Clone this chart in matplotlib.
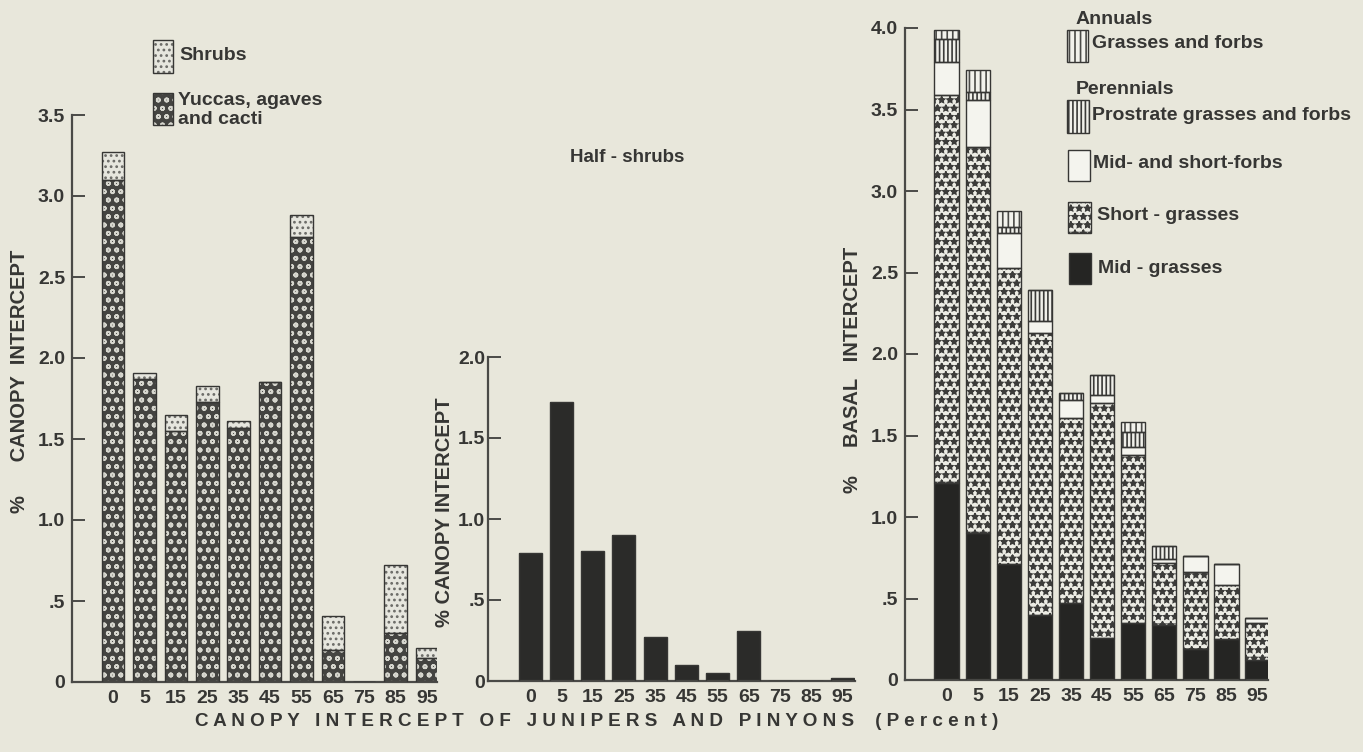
import matplotlib
matplotlib.use('Agg')
import matplotlib.pyplot as plt
from matplotlib.patches import Rectangle
import numpy as np

# --- data ---
classes = ['0', '5', '15', '25', '35', '45', '55', '65', '75', '85', '95']

yuccas = [3.10, 1.87, 1.55, 1.73, 1.57, 1.85, 2.75, 0.20, 0.0, 0.30, 0.15]
shrubs = [0.17, 0.04, 0.10, 0.10, 0.04, 0.0, 0.13, 0.21, 0.0, 0.42, 0.06]

half_shrubs = [0.79, 1.72, 0.80, 0.90, 0.27, 0.10, 0.05, 0.31, 0.0, 0.0, 0.02]

mid_grasses = [1.21, 0.90, 0.71, 0.40, 0.47, 0.26, 0.35, 0.34, 0.19, 0.25, 0.12]
short_grasses = [2.38, 2.37, 1.82, 1.73, 1.14, 1.44, 1.03, 0.38, 0.47, 0.33, 0.23]
mid_short_forbs = [0.20, 0.29, 0.21, 0.07, 0.11, 0.05, 0.05, 0.02, 0.10, 0.13, 0.03]
prostrate = [0.14, 0.05, 0.04, 0.19, 0.04, 0.12, 0.09, 0.08, 0.0, 0.0, 0.0]
annuals = [0.06, 0.13, 0.10, 0.0, 0.0, 0.0, 0.06, 0.0, 0.0, 0.0, 0.0]

BG = '#e8e7db'
INK = '#363634'
FONT = ['Liberation Sans', 'DejaVu Sans']

plt.rcParams['font.family'] = FONT
plt.rcParams['font.weight'] = 'bold'
plt.rcParams['hatch.linewidth'] = 1.2

# style per layer: (face, hatch, hatch colour)
STYLES = {
    'yucca': ('#444441', 'oo', '#d6d6ce'),
    'shrub': ('#e6e6de', '...', '#6a6a66'),
    'half': ('#2b2b29', None, '#2b2b29'),
    'mid': ('#252523', None, '#252523'),
    'short': ('#ecece4', '**', '#3c3c3a'),
    'forbs': ('#f4f4ee', None, '#f4f4ee'),
    'prostrate': ('#f0f0ea', '||||', '#3a3a38'),
    'annual': ('#f2f2ec', '|||', '#4a4a47'),
}

fig = plt.figure(figsize=(13.63, 7.52), dpi=100, facecolor=BG)
W, H = 1363.0, 752.0


def px_axes(x0, x1, ytop, ybot):
    return fig.add_axes([x0 / W, (H - ybot) / H, (x1 - x0) / W, (ybot - ytop) / H])


def styled_bar(ax, x, h, bottom, key, width):
    face, hatch, hcol = STYLES[key]
    ax.bar(x, h, width, bottom=bottom, color=face, edgecolor=hcol,
           linewidth=0, hatch=hatch, zorder=2)
    ax.bar(x, h, width, bottom=bottom, fill=False, edgecolor=INK,
           linewidth=1.0, zorder=3)


def style_axes(ax, ymax, yticks, ylabels, xlim, ypad=5):
    ax.set_facecolor('none')
    for s in ['top', 'right']:
        ax.spines[s].set_visible(False)
    for s in ['left', 'bottom']:
        ax.spines[s].set_color('#4a4a47')
        ax.spines[s].set_linewidth(1.6)
    ax.set_ylim(0, ymax)
    ax.set_xlim(*xlim)
    ax.set_yticks(yticks)
    ax.set_yticklabels(ylabels)
    ax.set_xticks(np.arange(len(classes)))
    ax.set_xticklabels(classes)
    ax.tick_params(axis='y', direction='in', length=9, width=1.4,
                   color='#4a4a47', pad=ypad, labelsize=14, labelcolor=INK)
    ax.tick_params(axis='x', length=0, pad=6, labelsize=14, labelcolor=INK)


x = np.arange(len(classes))

# --- panel 1: shrubs / yuccas ---
ax1 = px_axes(72, 437, 115, 682)
styled_bar(ax1, x, yuccas, 0, 'yucca', 0.72)
styled_bar(ax1, x, shrubs, yuccas, 'shrub', 0.72)
style_axes(ax1, 3.5, [0, 0.5, 1.0, 1.5, 2.0, 2.5, 3.0, 3.5],
           ['0', '.5', '1.0', '1.5', '2.0', '2.5', '3.0', '3.5'], (-1.31, 10.32))

# --- panel 2: half-shrubs ---
ax2 = px_axes(488, 855, 357, 681)
styled_bar(ax2, x, half_shrubs, 0, 'half', 0.74)
style_axes(ax2, 2.0, [0, 0.5, 1.0, 1.5, 2.0], ['0', '.5', '1.0', '1.5', '2.0'],
           (-1.35, 10.4), ypad=2)

# --- panel 3: grasses and forbs, stacked ---
ax3 = px_axes(905, 1268, 28, 680)
layers = [('mid', mid_grasses), ('short', short_grasses), ('forbs', mid_short_forbs),
          ('prostrate', prostrate), ('annual', annuals)]
bottom = np.zeros(len(classes))
for key, vals in layers:
    vals = np.array(vals)
    styled_bar(ax3, x, vals, bottom, key, 0.8)
    bottom = bottom + vals
style_axes(ax3, 4.0, [0, 0.5, 1.0, 1.5, 2.0, 2.5, 3.0, 3.5, 4.0],
           ['0', '.5', '1.0', '1.5', '2.0', '2.5', '3.0', '3.5', '4.0'], (-1.35, 10.35))

# --- axis titles ---
fig.text(20 / W, 1 - 381 / H, '%      CANOPY  INTERCEPT', rotation=90, ha='center',
         va='center', fontsize=14.5, color=INK)
fig.text(445 / W, 1 - 512 / H, '% CANOPY INTERCEPT', rotation=90, ha='center',
         va='center', fontsize=14.5, color=INK)
fig.text(852 / W, 1 - 370 / H, '%     BASAL   INTERCEPT', rotation=90, ha='center',
         va='center', fontsize=14.5, color=INK)
fig.text(627 / W, 1 - 158 / H, 'Half - shrubs', ha='center', va='center',
         fontsize=13.5, color=INK)


def spaced(words):
    return '   '.join(' '.join(w) for w in words)


fig.text(597 / W, 1 - 722 / H,
         spaced(['CANOPY', 'INTERCEPT', 'OF', 'JUNIPERS', 'AND', 'PINYONS']) + '    ( P e r c e n t )',
         ha='center', va='center', fontsize=13.6, color=INK)


# --- legends drawn as swatches ---
def swatch(x0, y0, x1, y1, key, label, tx, ty):
    face, hatch, hcol = STYLES[key]
    r = Rectangle((x0 / W, 1 - y1 / H), (x1 - x0) / W, (y1 - y0) / H,
                  transform=fig.transFigure, facecolor=face, edgecolor=hcol,
                  linewidth=0, hatch=hatch)
    fig.add_artist(r)
    fig.add_artist(Rectangle((x0 / W, 1 - y1 / H), (x1 - x0) / W, (y1 - y0) / H,
                             transform=fig.transFigure, fill=False, edgecolor=INK,
                             linewidth=1.0))
    fig.text(tx / W, 1 - ty / H, label, ha='left', va='center', fontsize=14,
             color=INK, linespacing=1.1)


swatch(153, 40, 173, 73, 'shrub', 'Shrubs', 179, 56)
swatch(153, 93, 173, 125, 'yucca', 'Yuccas, agaves\nand cacti', 178, 110)

fig.text(1076 / W, 1 - 20 / H, 'Annuals', ha='left', va='center', fontsize=14, color=INK)
swatch(1067, 30, 1088, 62, 'annual', 'Grasses and forbs', 1092, 43)
fig.text(1076 / W, 1 - 90 / H, 'Perennials', ha='left', va='center', fontsize=14, color=INK)
swatch(1067, 100, 1089, 133, 'prostrate', 'Prostrate grasses and forbs', 1092, 116)
swatch(1068, 150, 1090, 181, 'forbs', 'Mid- and short-forbs', 1093, 163)
swatch(1068, 202, 1091, 233, 'short', 'Short - grasses', 1097, 216)
swatch(1069, 253, 1091, 284, 'mid', 'Mid - grasses', 1098, 268)

fig.savefig('out.png', dpi=100, facecolor=BG)
